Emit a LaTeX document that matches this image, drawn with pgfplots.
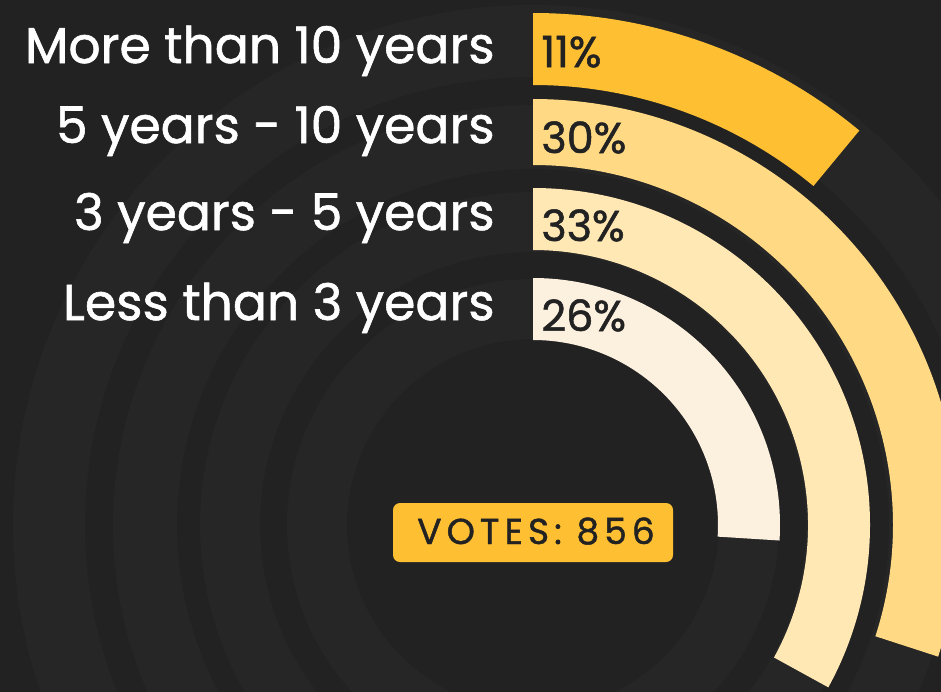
\documentclass[border=0pt]{standalone}
\usepackage{pgfplots}
\pgfplotsset{compat=1.18}
\usepackage{fontspec}
\setmainfont{Poppins}
\newfontfamily\medfont{Poppins}[FakeBold=1.2]
\newfontfamily\votefont{Poppins}[FakeBold=1.2, LetterSpace=14]
\definecolor{bg}{HTML}{222222}
\definecolor{track}{HTML}{262626}
\definecolor{cA}{HTML}{FFBF33}
\definecolor{ink}{HTML}{222222}

\makeatletter
\pgfdeclareplotmark{sector}{%
  \pgfkeys{/pgf/fpu=false}%
  \pgfmathsetmacro\sec@end{90-3.6*\secpct}%
  \pgfmathsetlengthmacro\sec@ro{0.5pt*\secrout}%
  \pgfmathsetlengthmacro\sec@ri{0.5pt*\secrin}%
  \pgfpathmoveto{\pgfpointpolar{90}{\sec@ro}}%
  \pgfpatharc{90}{\sec@end}{\sec@ro}%
  \pgfpathlineto{\pgfpointpolar{\sec@end}{\sec@ri}}%
  \pgfpatharc{\sec@end}{90}{\sec@ri}%
  \pgfpathclose
  \pgfusepathqfill
}
\makeatother

\pgfplotsset{sectorplot/.style={scatter, only marks, mark=sector,
  point meta=explicit,
  visualization depends on={value \thisrow{pct} \as \secpct},
  visualization depends on={value \thisrow{rin} \as \secrin},
  visualization depends on={value \thisrow{rout} \as \secrout}}}

\begin{document}
\begin{tikzpicture}
\useasboundingbox (0,0) rectangle (470.5pt,345.5pt);
\fill[bg] (-3pt,-3pt) rectangle (473.5pt,348.5pt);
\begin{axis}[at={(0,0)}, anchor=south west, scale only axis,
  width=470.5pt, height=345.5pt,
  xmin=0, xmax=941, ymin=0, ymax=691, y dir=reverse,
  hide axis, clip marker paths=true,
  colormap={bars}{rgb255(0)=(255,191,51) rgb255(1)=(255,217,132) rgb255(2)=(255,232,180) rgb255(3)=(252,240,223)},
  point meta min=0, point meta max=3,
]
% background tracks (full rings)
\addplot[sectorplot, scatter/use mapped color={draw=none, fill=track}]
  table[x=cx, y=cy, meta=idx] {
cx  cy  idx pct rin rout
533 525 0 100 448 520
533 525 1 100 356 420
533 525 2 100 273 333
533 525 3 100 186 246
};
% bars: share (%), inner and outer radius (px), colour index
\addplot[sectorplot, scatter/use mapped color={draw=none, fill=mapped color}]
  table[x=cx, y=cy, meta=idx] {
cx  cy  idx pct rin rout
533 525 0 11 440 512
533 525 1 30 360 426
533 525 2 33 275 337
533 525 3 26 185 247
};

\begin{scope}[every node/.style={inner sep=0pt, text=white, anchor=base east, font=\medfont\fontsize{25.2}{30}\selectfont}]
\node at (axis cs:495,63) {More than 10 years};
\node at (axis cs:495,143) {5 years - 10 years};
\node at (axis cs:495,230) {3 years - 5 years};
\node at (axis cs:495,320) {Less than 3 years};
\end{scope}
\begin{scope}[every node/.style={inner sep=0pt, text=ink, anchor=base west, font=\medfont\fontsize{21.5}{24}\selectfont}]
\node at (axis cs:541,67) {11\%};
\node at (axis cs:541,153) {30\%};
\node at (axis cs:541,241) {33\%};
\node at (axis cs:541,331) {26\%};
\end{scope}
\fill[cA, rounded corners=3.5pt] (axis cs:393,503) rectangle (axis cs:673,562);
\node[inner sep=0pt, text=ink, anchor=base, font=\votefont\fontsize{18}{20}\selectfont] at (axis cs:536,544) {VOTES: 856};
\end{axis}
\end{tikzpicture}
\end{document}
